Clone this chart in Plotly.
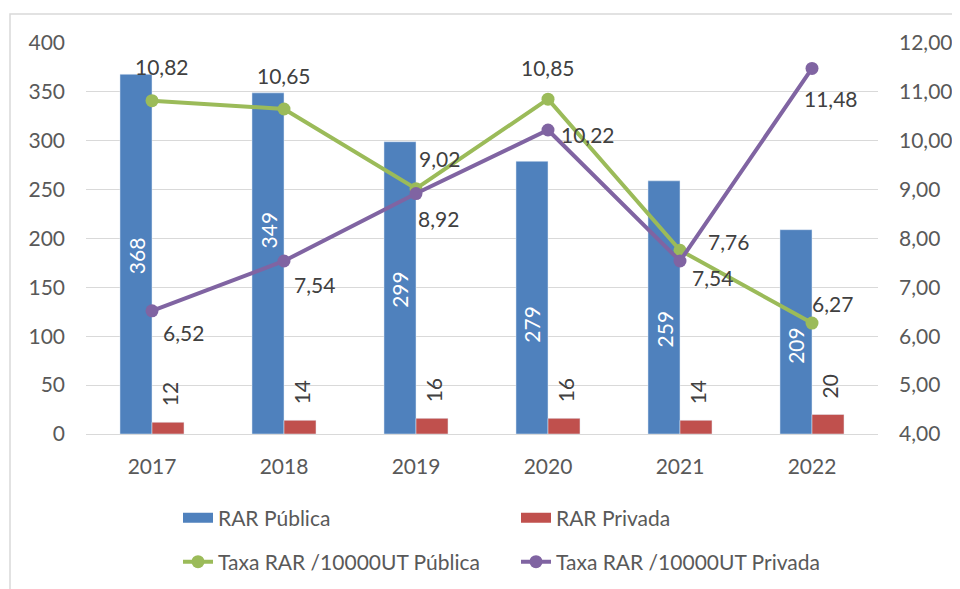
import plotly.graph_objects as go

# ---- data ----
years = ["2017", "2018", "2019", "2020", "2021", "2022"]
rar_publica = [368, 349, 299, 279, 259, 209]
rar_privada = [12, 14, 16, 16, 14, 20]
taxa_publica = [10.82, 10.65, 9.02, 10.85, 7.76, 6.27]
taxa_privada = [6.52, 7.54, 8.92, 10.22, 7.54, 11.48]

left_ticks = [0, 50, 100, 150, 200, 250, 300, 350, 400]
right_ticks = [4, 5, 6, 7, 8, 9, 10, 11, 12]

# ---- style ----
BLUE = "#4F81BD"
RED = "#C0504D"
GREEN = "#9BBB59"
PURPLE = "#8064A2"
GRID = "#D9D9D9"
TICK_C = "#595959"
LABEL_C = "#404040"
FONT = "Lato"
FS = 21

# label offsets in px (dx, dy up)
pub_off = [(10, 34), (0, 33), (23, 30), (0, 32), (48, 9), (20, 20)]
priv_off = [(31, -22), (30, -24), (22, -25), (40, -4), (32, -17), (19, -30)]
bar_lbl_dy = [-2, 33, -2, -27, -22, -14]

def fmt(v):
    return f"{v:.2f}".replace(".", ",")

idx = list(range(len(years)))

fig = go.Figure()

fig.add_trace(go.Bar(
    x=idx, y=rar_publica, name="RAR Pública", marker_color=BLUE,
    showlegend=False, legendgroup="pub", legend="legend",
))
fig.add_trace(go.Bar(
    x=idx, y=rar_privada, name="RAR Privada", marker_color=RED,
    showlegend=False, legendgroup="priv", legend="legend",
))
# legend proxies for bars (wide rectangle look)
fig.add_trace(go.Scatter(
    x=idx, y=[None] * len(years), mode="lines", name="RAR Pública",
    line=dict(color=BLUE, width=14), legendgroup="pub", legend="legend",
    hoverinfo="skip",
))
fig.add_trace(go.Scatter(
    x=idx, y=[None] * len(years), mode="lines", name="RAR Privada",
    line=dict(color=RED, width=14), legendgroup="priv", legend="legend",
    hoverinfo="skip",
))
fig.add_trace(go.Scatter(
    x=idx, y=taxa_publica, yaxis="y2", mode="lines+markers",
    name="Taxa RAR /10000UT Pública",
    line=dict(color=GREEN, width=4), marker=dict(size=13, color=GREEN),
    legend="legend2",
))
fig.add_trace(go.Scatter(
    x=idx, y=taxa_privada, yaxis="y2", mode="lines+markers",
    name="Taxa RAR /10000UT Privada",
    line=dict(color=PURPLE, width=4), marker=dict(size=13, color=PURPLE),
    legend="legend2",
))

annotations = []
for i, v, dy in zip(idx, rar_publica, bar_lbl_dy):
    annotations.append(dict(
        x=i, y=v / 2, xref="x", yref="y", text=str(v), showarrow=False,
        textangle=-90, xshift=-16, yshift=dy, xanchor="center", yanchor="middle",
        font=dict(size=FS, color="white", family=FONT),
    ))
for i, v in zip(idx, rar_privada):
    annotations.append(dict(
        x=i, y=v, xref="x", yref="y", text=str(v), showarrow=False,
        textangle=-90, xshift=17, yshift=28, xanchor="center", yanchor="middle",
        font=dict(size=FS, color=LABEL_C, family=FONT),
    ))
for i, v, (dx, dy) in zip(idx, taxa_publica, pub_off):
    annotations.append(dict(
        x=i, y=v, xref="x", yref="y2", text=fmt(v), showarrow=False,
        xshift=dx, yshift=dy, xanchor="center", yanchor="middle",
        font=dict(size=FS, color=LABEL_C, family=FONT),
    ))
for i, v, (dx, dy) in zip(idx, taxa_privada, priv_off):
    annotations.append(dict(
        x=i, y=v, xref="x", yref="y2", text=fmt(v), showarrow=False,
        xshift=dx, yshift=dy, xanchor="center", yanchor="middle",
        font=dict(size=FS, color=LABEL_C, family=FONT),
    ))

# page has an 8px body margin; size the figure to fit the window
OFF = 8
W, H = 960 - OFF, 589 - OFF
# plot area in page pixels: x 86..878, y 43..434
L = 86 - OFF
T = 43 - OFF
R = W - (878 - OFF)
B = H - (434 - OFF)
pw, ph = W - L - R, H - T - B

def px_x(p):
    return (p - OFF - L) / pw

def px_y(p):
    return (H - B - (p - OFF)) / ph

fig.update_layout(
    width=W, height=H,
    margin=dict(l=L, r=R, t=T, b=B, pad=0, autoexpand=False),
    paper_bgcolor="white", plot_bgcolor="white",
    font=dict(family=FONT, size=FS, color=TICK_C),
    separators=", ",
    barmode="group", bargap=0.515, bargroupgap=0,
    xaxis=dict(
        tickmode="array", tickvals=idx, ticktext=years,
        range=[-0.5, len(years) - 0.5],
        showgrid=False, showline=True, linecolor=GRID,
        linewidth=1.3, ticks="", ticklabelstandoff=14, zeroline=False,
        tickfont=dict(size=FS, color=TICK_C, family=FONT),
    ),
    yaxis=dict(
        range=[0, 400], tickvals=left_ticks, showgrid=True, gridcolor=GRID,
        gridwidth=1.3, zeroline=False, showline=False, ticks="",
        ticklabelstandoff=20,
        tickfont=dict(size=FS, color=TICK_C, family=FONT),
    ),
    yaxis2=dict(
        range=[4, 12], tickvals=right_ticks, tickformat=".2f",
        overlaying="y", side="right", showgrid=False, zeroline=False,
        showline=False, ticks="", ticklabelstandoff=20,
        tickfont=dict(size=FS, color=TICK_C, family=FONT),
    ),
    legend=dict(
        orientation="h", x=px_x(178), y=px_y(518), xanchor="left",
        yanchor="middle", entrywidth=293, entrywidthmode="pixels",
        font=dict(size=21, color=TICK_C, family=FONT),
        bgcolor="rgba(0,0,0,0)",
    ),
    legend2=dict(
        orientation="h", x=px_x(178), y=px_y(562), xanchor="left",
        yanchor="middle", entrywidth=293, entrywidthmode="pixels",
        font=dict(size=21, color=TICK_C, family=FONT),
        bgcolor="rgba(0,0,0,0)",
    ),
    annotations=annotations,
    shapes=[dict(
        type="rect", xref="paper", yref="paper",
        x0=px_x(10), x1=px_x(975), y0=px_y(600), y1=px_y(14),
        line=dict(color=GRID, width=1.5), fillcolor="rgba(0,0,0,0)",
        layer="below",
    )],
)

fig.write_html("out.html")
